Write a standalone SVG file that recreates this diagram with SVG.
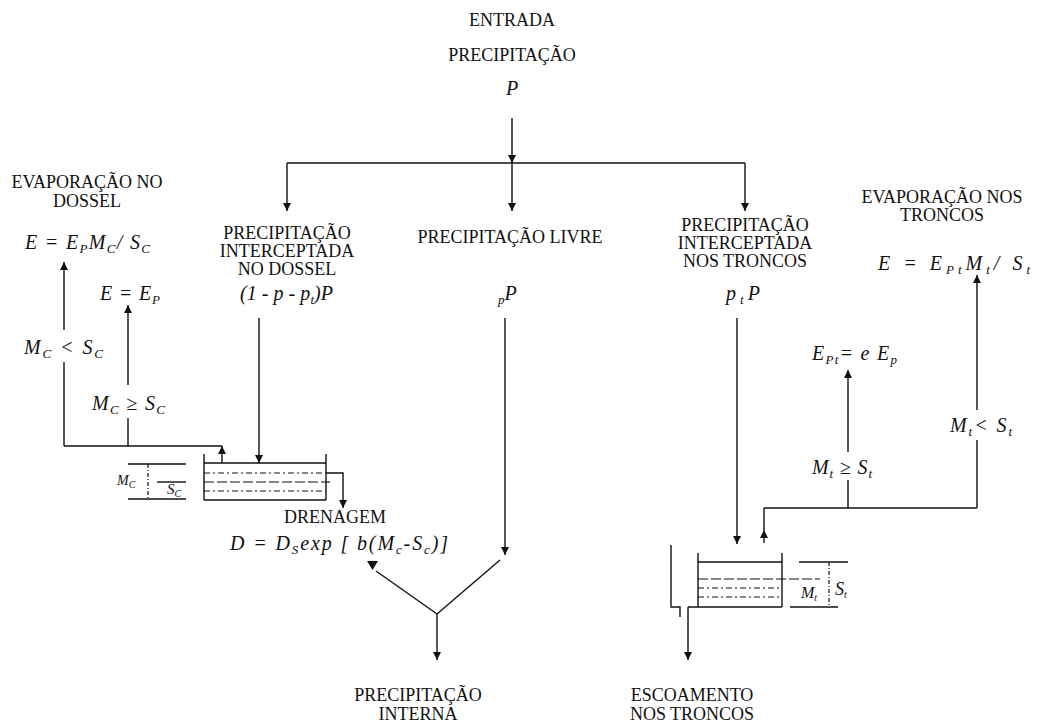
<svg xmlns="http://www.w3.org/2000/svg" width="1050" height="723" viewBox="0 0 1050 723">
<style>
text{font-family:"Liberation Serif","Times New Roman",serif;font-size:18px;fill:#111}
.c{text-anchor:middle}
.i{font-style:italic;font-size:20px}
.s{font-size:13px}
.ln{stroke:#111;stroke-width:1.4;fill:none}
.dd{stroke:#111;stroke-width:1.2;fill:none;stroke-dasharray:6 3 2 3}
.ld{stroke:#111;stroke-width:1.2;fill:none;stroke-dasharray:10 3}
.dv{stroke:#111;stroke-width:1.2;fill:none;stroke-dasharray:4 2 1 2}
</style>
<defs>
<marker id="ah" viewBox="0 0 10 10" refX="10" refY="5" markerWidth="10" markerHeight="8" markerUnits="userSpaceOnUse" orient="auto"><path d="M0,0 L10,5 L0,10 z" fill="#111"/></marker>
</defs>
<rect width="1050" height="723" fill="#fff"/>

<g id="entrada">
<text class="c" x="512" y="26">ENTRADA</text>
<text class="c" x="512" y="61">PRECIPITAÇÃO</text>
<text class="c i" x="512" y="95">P</text>
</g>

<g id="evap-dossel">
<text class="c" x="87" y="188">EVAPORAÇÃO NO</text>
<text class="c" x="87" y="207">DOSSEL</text>
<text class="i" x="25" y="249" textLength="125" lengthAdjust="spacing">E = E<tspan class="s" dy="4">P</tspan><tspan dy="-4">M</tspan><tspan class="s" dy="4">C</tspan><tspan dy="-4">/ S</tspan><tspan class="s" dy="4">C</tspan></text>
</g>

<g id="e-ep">
<text class="i" x="100" y="300" textLength="60" lengthAdjust="spacing">E = E<tspan class="s" dy="4">P</tspan></text>
</g>

<g id="cond-dossel">
<text class="i" x="24" y="354" textLength="79" lengthAdjust="spacing">M<tspan class="s" dy="4">C</tspan><tspan dy="-4"> &lt; S</tspan><tspan class="s" dy="4">C</tspan></text>
<text class="i" x="92" y="410" textLength="73" lengthAdjust="spacing">M<tspan class="s" dy="4">C</tspan><tspan dy="-4"> ≥ S</tspan><tspan class="s" dy="4">C</tspan></text>
</g>

<g id="precip-dossel">
<text class="c" x="287" y="239">PRECIPITAÇÃO</text>
<text class="c" x="287" y="257">INTERCEPTADA</text>
<text class="c" x="287" y="275">NO DOSSEL</text>
<text class="i" x="240" y="300" textLength="93" lengthAdjust="spacing">(1 - p - p<tspan class="s" dy="4">t</tspan><tspan dy="-4">)P</tspan></text>
</g>

<g id="precip-livre">
<text class="c" x="510" y="243">PRECIPITAÇÃO LIVRE</text>
<text class="i" x="498" y="300"><tspan class="s" dy="4">p</tspan><tspan dy="-4">P</tspan></text>
</g>

<g id="precip-troncos">
<text class="c" x="745" y="231">PRECIPITAÇÃO</text>
<text class="c" x="745" y="249">INTERCEPTADA</text>
<text class="c" x="745" y="267">NOS TRONCOS</text>
<text class="i" x="726" y="300" textLength="34" lengthAdjust="spacing">p<tspan class="s" dy="4">t</tspan><tspan dy="-4">P</tspan></text>
</g>

<g id="evap-troncos">
<text class="c" x="942" y="203">EVAPORAÇÃO NOS</text>
<text class="c" x="942" y="221">TRONCOS</text>
<text class="i" x="878" y="270" textLength="152" lengthAdjust="spacing">E = E<tspan class="s" dy="4">Pt</tspan><tspan dy="-4">M</tspan><tspan class="s" dy="4">t</tspan><tspan dy="-4">/ S</tspan><tspan class="s" dy="4">t</tspan></text>
</g>

<g id="ept">
<text class="i" x="812" y="360" textLength="85" lengthAdjust="spacing">E<tspan class="s" dy="4">Pt</tspan><tspan dy="-4">= e E</tspan><tspan class="s" dy="4">p</tspan></text>
</g>

<g id="cond-troncos">
<text class="i" x="812" y="474" textLength="60" lengthAdjust="spacing">M<tspan class="s" dy="4">t</tspan><tspan dy="-4"> ≥ S</tspan><tspan class="s" dy="4">t</tspan></text>
<text class="i" x="950" y="432" textLength="62" lengthAdjust="spacing">M<tspan class="s" dy="4">t</tspan><tspan dy="-4">&lt; S</tspan><tspan class="s" dy="4">t</tspan></text>
</g>

<g id="tanque-dossel">
<line class="ln" x1="204" y1="454" x2="204" y2="500"/>
<line class="ln" x1="326" y1="454" x2="326" y2="500"/>
<line class="ln" x1="204" y1="463" x2="326" y2="463"/>
<line class="ln" x1="204" y1="500" x2="326" y2="500"/>
<line class="dd" x1="204" y1="473" x2="326" y2="473"/>
<line class="ld" x1="204" y1="482" x2="326" y2="482"/>
<line class="dv" x1="326" y1="482" x2="332" y2="482"/>
<line class="dd" x1="204" y1="491" x2="326" y2="491"/>
<line class="ln" x1="128" y1="464" x2="186" y2="464"/>
<line class="ln" x1="128" y1="499" x2="186" y2="499"/>
<line class="ln" x1="157" y1="482" x2="186" y2="482"/>
<line class="dv" x1="148" y1="464" x2="148" y2="499"/>
<text x="117" y="485" style="font-size:14px;font-style:italic">M<tspan style="font-size:10px" dy="3">C</tspan></text>
<text x="167" y="494" style="font-size:15px;font-style:italic">S<tspan style="font-size:10px" dy="3">C</tspan></text>
</g>

<g id="drenagem">
<text class="c" x="335" y="523">DRENAGEM</text>
<text class="i" x="230" y="550" textLength="218" lengthAdjust="spacing">D = D<tspan class="s" dy="4">S</tspan><tspan dy="-4">exp [ b(M</tspan><tspan class="s" dy="4">c</tspan><tspan dy="-4">-S</tspan><tspan class="s" dy="4">c</tspan><tspan dy="-4">)]</tspan></text>
</g>

<g id="tanque-troncos">
<line class="ln" x1="698" y1="553" x2="698" y2="607"/>
<line class="ln" x1="782" y1="553" x2="782" y2="607"/>
<line class="ln" x1="698" y1="562" x2="782" y2="562"/>
<line class="ln" x1="688" y1="607" x2="782" y2="607"/>
<line class="ld" x1="698" y1="579" x2="820" y2="579"/>
<line class="dd" x1="698" y1="588" x2="782" y2="588"/>
<line class="dd" x1="698" y1="597" x2="782" y2="597"/>
<polyline class="ln" points="671,545 671,607 680,607 680,617"/>
<line class="ln" x1="799" y1="562" x2="848" y2="562"/>
<line class="ln" x1="790" y1="607" x2="838" y2="607"/>
<line class="dv" x1="829" y1="562" x2="829" y2="607"/>
<text x="801" y="598" style="font-size:16px;font-style:italic">M<tspan style="font-size:10px" dy="3">t</tspan></text>
<text x="835" y="595" style="font-size:18px;font-style:italic">S<tspan style="font-size:10px" dy="3">t</tspan></text>
</g>

<g id="precip-interna">
<text class="c" x="418" y="701">PRECIPITAÇÃO</text>
<text class="c" x="418" y="720">INTERNA</text>
</g>

<g id="escoamento">
<text class="c" x="692" y="701">ESCOAMENTO</text>
<text class="c" x="692" y="720">NOS TRONCOS</text>
</g>

<g id="connectors">
<line class="ln" x1="512" y1="118" x2="512" y2="163" marker-end="url(#ah)"/>
<line class="ln" x1="287" y1="163" x2="745" y2="163"/>
<line class="ln" x1="287" y1="163" x2="287" y2="211" marker-end="url(#ah)"/>
<line class="ln" x1="512" y1="163" x2="512" y2="211" marker-end="url(#ah)"/>
<line class="ln" x1="745" y1="163" x2="745" y2="211" marker-end="url(#ah)"/>

<line class="ln" x1="64" y1="330" x2="64" y2="262" marker-end="url(#ah)"/>
<line class="ln" x1="64" y1="362" x2="64" y2="446"/>
<line class="ln" x1="128" y1="385" x2="128" y2="305" marker-end="url(#ah)"/>
<line class="ln" x1="128" y1="418" x2="128" y2="446"/>
<line class="ln" x1="64" y1="446" x2="222" y2="446"/>
<line class="ln" x1="222" y1="463" x2="222" y2="446" marker-end="url(#ah)"/>

<line class="ln" x1="259" y1="318" x2="259" y2="463" marker-end="url(#ah)"/>
<polyline class="ln" points="326,473 343,473 343,508" marker-end="url(#ah)"/>

<line class="ln" x1="505" y1="318" x2="505" y2="555" marker-end="url(#ah)"/>
<line class="ln" x1="500" y1="560" x2="437" y2="614"/>
<polygon points="367,561 378,561 372.5,570" fill="#111"/>
<line class="ln" x1="376" y1="571" x2="437" y2="614"/>
<line class="ln" x1="437" y1="614" x2="437" y2="660" marker-end="url(#ah)"/>

<line class="ln" x1="737" y1="318" x2="737" y2="544" marker-end="url(#ah)"/>
<line class="ln" x1="764" y1="543" x2="764" y2="530" marker-end="url(#ah)"/>
<line class="ln" x1="764" y1="530" x2="764" y2="508"/>
<line class="ln" x1="764" y1="508" x2="977" y2="508"/>
<line class="ln" x1="848" y1="508" x2="848" y2="480"/>
<line class="ln" x1="848" y1="452" x2="848" y2="370" marker-end="url(#ah)"/>
<line class="ln" x1="977" y1="508" x2="977" y2="440"/>
<line class="ln" x1="977" y1="410" x2="977" y2="275" marker-end="url(#ah)"/>
<line class="ln" x1="688" y1="607" x2="688" y2="660" marker-end="url(#ah)"/>
</g>
</svg>
